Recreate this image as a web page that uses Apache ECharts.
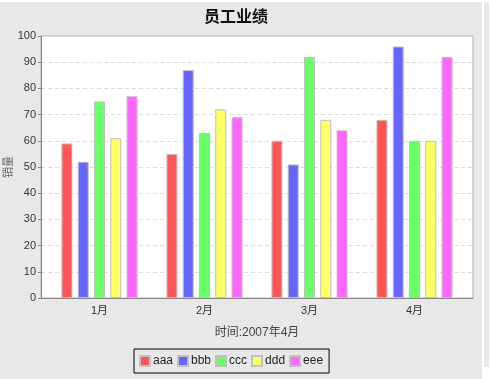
<!DOCTYPE html>
<html><head><meta charset="utf-8">
<script src="https://cdn.jsdelivr.net/npm/echarts@6/dist/echarts.min.js"></script>
<style>
html,body{margin:0;padding:0;background:#fff;width:491px;height:379px;overflow:hidden;}
#c{position:absolute;left:0;top:2px;width:482px;height:377px;background:#e8e8e8;}
#s{position:absolute;left:484px;top:2px;width:5px;height:365px;background:#e8e8e8;}
</style></head><body>
<div id="c"></div><div id="s"></div>
<script>
var categories = ['1月','2月','3月','4月'];
var seriesNames = ['aaa','bbb','ccc','ddd','eee'];
var aaa = [59, 55, 60, 68];
var bbb = [52, 87, 51, 96];
var ccc = [75, 63, 92, 60];
var ddd = [61, 72, 68, 60];
var eee = [77, 69, 64, 92];
var yTicks = [0,10,20,30,40,50,60,70,80,90,100];
var colors = ['#ff5555','#6666ff','#66ff66','#ffff66','#ff66ff'];
var values = [aaa,bbb,ccc,ddd,eee];
var font = '"Liberation Sans","Noto Sans CJK SC",sans-serif';
var chart = echarts.init(document.getElementById('c'));
chart.setOption({
  animation:false,
  backgroundColor:'#e8e8e8',
  title:{text:'员工业绩',left:231,textAlign:'center',top:1,
    textStyle:{fontFamily:'"Noto Sans CJK SC",serif',fontSize:16,fontWeight:'bold',color:'#111'}},
  legend:{data:seriesNames,left:134,top:347,padding:[6,6,6,5],
    borderColor:'#000',borderWidth:1,itemWidth:10,itemHeight:10,itemGap:4,
    icon:'rect',textStyle:{fontFamily:font,fontSize:12,color:'#222',padding:[0,0,0,-2]}},
  grid:[
    {left:41,right:9,top:34,bottom:81,show:true,backgroundColor:'#fff',borderColor:'#b0b0b0',borderWidth:1,
      containLabel:false,outerBoundsMode:'none'},
    {left:47,right:15,top:34,bottom:81,show:false,containLabel:false,outerBoundsMode:'none'}
  ],
  xAxis:[
    {type:'category',gridIndex:0,data:categories,
      axisLine:{lineStyle:{color:'#888'}},axisTick:{show:false},axisLabel:{show:false},splitLine:{show:false}},
    {type:'category',gridIndex:1,data:categories,
      name:'时间:2007年4月',nameLocation:'middle',nameGap:29,nameMoveOverlap:false,
      nameTextStyle:{fontFamily:font,fontSize:12,color:'#444'},
      axisLine:{show:false},axisTick:{show:false},
      axisLabel:{fontFamily:font,fontSize:11,color:'#333',margin:7}}
  ],
  yAxis:[
    {type:'value',gridIndex:0,min:0,max:100,interval:10,
      name:'销量',nameLocation:'middle',nameGap:27,nameRotate:90,nameMoveOverlap:false,
      nameTextStyle:{fontFamily:font,fontSize:11,color:'#666'},
      axisLine:{show:true,lineStyle:{color:'#888'}},
      axisTick:{show:true,length:3,lineStyle:{color:'#888'}},
      axisLabel:{fontFamily:font,fontSize:11,color:'#333',margin:5,
        formatter:function(v){return yTicks.indexOf(v)>=0?String(v):'';}},
      splitLine:{lineStyle:{color:'#dcdcdc',type:[4,3]}}},
    {type:'value',gridIndex:1,min:0,max:100,interval:10,show:false,splitLine:{show:false}}
  ],
  series:seriesNames.map(function(n,i){
    return {name:n,type:'bar',xAxisIndex:1,yAxisIndex:1,data:values[i],barWidth:11,barGap:'48%',
      itemStyle:{color:colors[i],borderColor:'#c0c0c0',borderWidth:1}};
  })
});
</script></body></html>
